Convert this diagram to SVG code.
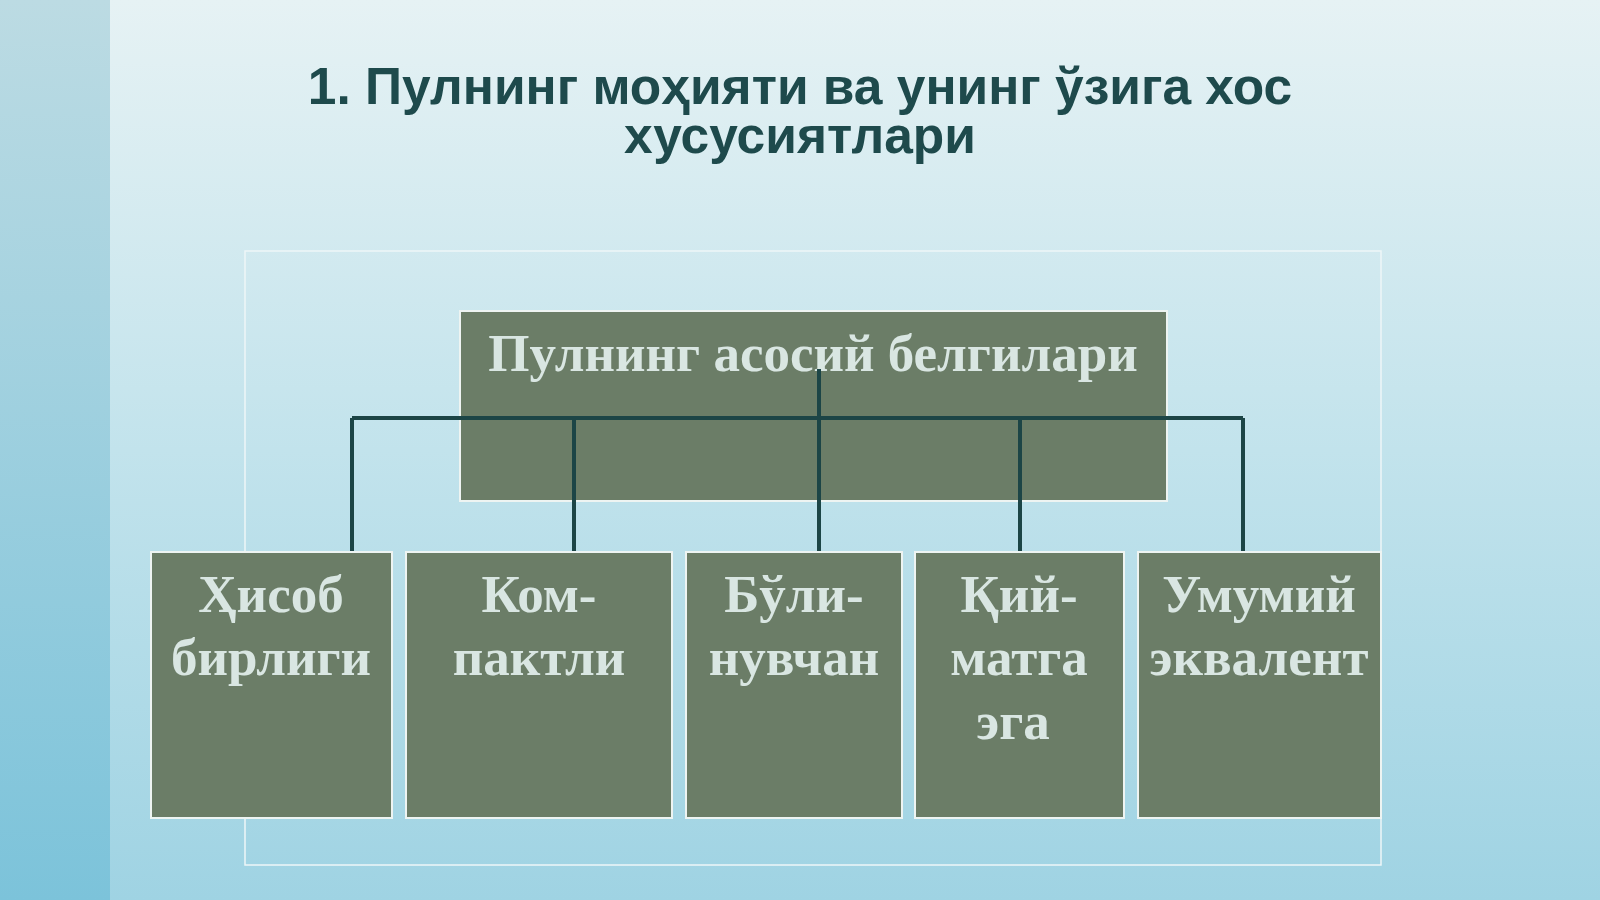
<svg xmlns="http://www.w3.org/2000/svg" width="1600" height="900" viewBox="0 0 1600 900">
<defs>
<linearGradient id="bg" x1="0" y1="0" x2="0" y2="1">
<stop offset="0" stop-color="#e6f2f4"/><stop offset="0.5" stop-color="#c2e3ec"/><stop offset="1" stop-color="#9fd3e3"/>
</linearGradient>
<linearGradient id="side" x1="0" y1="0" x2="0" y2="1">
<stop offset="0" stop-color="#bcdbe3"/><stop offset="1" stop-color="#7cc3da"/>
</linearGradient>
<style>
.box{fill:#6b7d67;stroke:#eef4f2;stroke-width:2}
.t{font-family:"Liberation Serif",serif;font-weight:bold;font-size:53px;fill:#d9e6e2;text-anchor:middle}
.ln{stroke:#1c4546;stroke-width:4;fill:none}
</style>
</defs>
<rect width="1600" height="900" fill="url(#bg)"/>
<rect width="110" height="900" fill="url(#side)"/>
<g id="title" font-family="Liberation Sans,Arial,sans-serif" font-weight="bold" font-size="51.5" fill="#1e4a4c" text-anchor="middle">
<text x="800" y="104">1. Пулнинг моҳияти ва унинг ўзига хос</text>
<text x="800" y="153">хусусиятлари</text>
</g>
<rect x="245" y="251" width="1136" height="614" fill="none" stroke="#eef6f8" stroke-width="1.5"/>
<g id="root"><rect class="box" x="460" y="311" width="707" height="190"/><text class="t" x="813" y="371">Пулнинг асосий белгилари</text></g>
<g id="connectors">
<path class="ln" d="M352 418H1243M819 369V551M352 418V551M574 418V551M1020 418V551M1243 418V551"/>
</g>
<g id="n1"><rect class="box" x="151" y="552" width="241" height="266"/><text class="t" x="271" y="612">Ҳисоб</text><text class="t" x="271" y="675">бирлиги</text></g>
<g id="n2"><rect class="box" x="406" y="552" width="266" height="266"/><text class="t" x="539" y="612">Ком-</text><text class="t" x="539" y="675">пактли</text></g>
<g id="n3"><rect class="box" x="686" y="552" width="216" height="266"/><text class="t" x="794" y="612">Бўли-</text><text class="t" x="794" y="675">нувчан</text></g>
<g id="n4"><rect class="box" x="915" y="552" width="209" height="266"/><text class="t" x="1019" y="612">Қий-</text><text class="t" x="1019" y="675">матга</text><text class="t" x="1013" y="739">эга</text></g>
<g id="n5"><rect class="box" x="1138" y="552" width="243" height="266"/><text class="t" x="1259" y="612">Умумий</text><text class="t" x="1259" y="675">эквалент</text></g>
</svg>
